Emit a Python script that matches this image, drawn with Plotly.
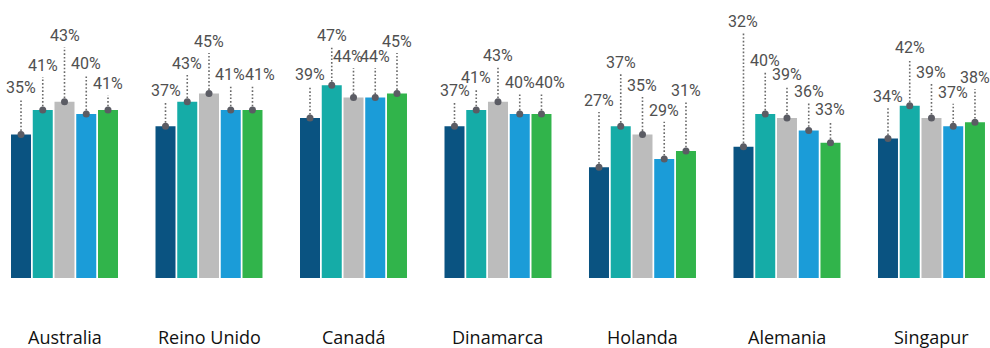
import numpy as np
import plotly.graph_objects as go

countries = ["Australia", "Reino Unido", "Canadá", "Dinamarca", "Holanda", "Alemania", "Singapur"]

# five series (one bar each per country), values in %
s1 = [35, 37, 39, 37, 27, 32, 34]
s2 = [41, 43, 47, 41, 37, 40, 42]
s3 = [43, 45, 44, 43, 35, 39, 39]
s4 = [40, 41, 44, 40, 29, 36, 37]
s5 = [41, 41, 45, 40, 31, 33, 38]
series = [s1, s2, s3, s4, s5]

colors = ["#0a5381", "#15aca7", "#bcbcbc", "#1b9cd8", "#31b44b"]

# label placement (height of the top of each dotted leader, in axis units)
label_top = [
    [43.7, 42.9, 46.8, 42.9, 40.5, 59.7, 41.5],
    [49.0, 49.5, 56.3, 46.1, 49.8, 50.2, 53.4],
    [56.3, 54.9, 51.2, 51.5, 44.2, 46.8, 47.3],
    [49.5, 46.8, 51.2, 44.9, 38.1, 42.7, 42.5],
    [44.6, 46.8, 54.9, 44.9, 42.9, 38.3, 46.1],
]
# horizontal nudge of labels (pixels) where neighbours would collide
label_dx = [
    [0, 0, 0, 0, 0, 0, 0],
    [0, 0, 0, 0, 0, 0, 0],
    [0, 0, -6, 0, 0, 0, 0],
    [0, -1, 0, 0, 0, 0, 0],
    [0, 8, 0, 9, 0, 0, 0],
]

n = len(countries)
gx = np.arange(n)
slot = 0.1505
bar_w = 0.1384

fig = go.Figure()
annotations = []
for j, vals in enumerate(series):
    xs = gx + (j - 2) * slot
    fig.add_trace(go.Bar(x=xs, y=vals, width=bar_w, marker=dict(color=colors[j], line=dict(width=0)),
                         hoverinfo="skip", showlegend=False))
for j, vals in enumerate(series):
    xs = gx + (j - 2) * slot
    lx, ly = [], []
    for i in range(n):
        lx += [xs[i], xs[i], None]
        ly += [vals[i], label_top[j][i], None]
    fig.add_trace(go.Scatter(x=lx, y=ly, mode="lines", line=dict(color="#6a6a6a", width=1.6, dash="1.6px,2px"),
                             hoverinfo="skip", showlegend=False))
    fig.add_trace(go.Scatter(x=xs, y=vals, mode="markers", marker=dict(color="#5b5c64", size=7),
                             hoverinfo="skip", showlegend=False))
    for i in range(n):
        annotations.append(dict(x=xs[i], y=label_top[j][i], xref="x", yref="y", text=f"{vals[i]}%",
                                showarrow=False, yanchor="bottom", xanchor="center", yshift=0,
                                xshift=label_dx[j][i],
                                font=dict(family="Roboto, sans-serif", size=16, weight=400, color="#505050")))

for i, c in enumerate(countries):
    annotations.append(dict(x=gx[i], y=0, xref="x", yref="y", text=c, showarrow=False,
                            yanchor="middle", xanchor="center", yshift=-59,
                            font=dict(family="Open Sans, sans-serif", size=18, color="#111111")))

fig.update_layout(
    width=990, height=348,
    margin=dict(l=0, r=0, t=0, b=70),
    paper_bgcolor="white", plot_bgcolor="white",
    barmode="overlay",
    xaxis=dict(range=[-0.4464, 6.405], visible=False, fixedrange=True),
    yaxis=dict(range=[0, 67.8], visible=False, fixedrange=True),
    annotations=annotations,
)

fig.write_html("out.html")
